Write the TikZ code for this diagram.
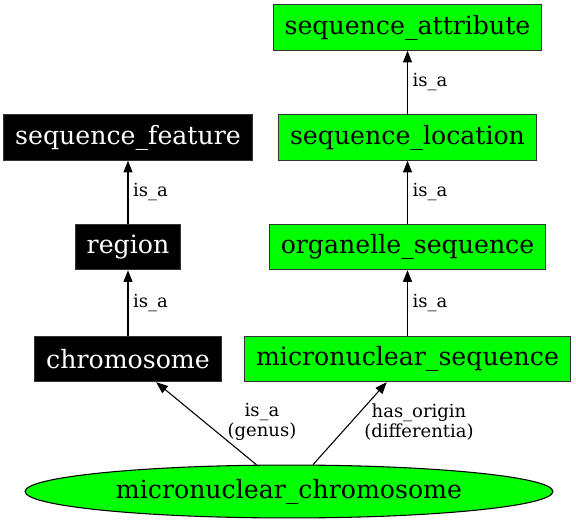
\documentclass[tikz,border=0pt]{standalone}
\usepackage{fontspec}
\setmainfont{DejaVu Serif}
\usetikzlibrary{arrows.meta,shapes.geometric}

\tikzset{
	Term/.style={draw=black!80, line width=0.6pt, rectangle, inner xsep=6.4pt, inner ysep=0pt,
		minimum height=25.2pt, font=\fontsize{14}{16}\selectfont}
}
\tikzset{
	BlackTerm/.style={Term, fill=black, text=white}
}
\tikzset{
	GreenTerm/.style={Term, fill=green, text=black}
}
\tikzset{
	IsA/.style={black, line width=0.6pt, -{Triangle[length=6.5pt,width=5pt]}}
}
\tikzset{
	Lbl/.style={font=\fontsize{10}{11}\selectfont, align=center, inner sep=2.5pt}
}

\begin{document}
\begin{tikzpicture}[x=0.5556pt,y=-0.5556pt]
\useasboundingbox (0,0) rectangle (576,523);

%Terms
\node[GreenTerm] (seqattr) at (407.5,27.5) {sequence\_attribute};
\node[GreenTerm] (seqloc) at (407.5,137.5) {sequence\_location};
\node[GreenTerm] (orgseq) at (407.5,247) {organelle\_sequence};
\node[GreenTerm] (microseq) at (407.5,359) {micronuclear\_sequence};

\node[BlackTerm] (seqfeat) at (128,137.5) {sequence\_feature};
\node[BlackTerm] (region) at (128,247) {region};
\node[BlackTerm] (chromosome) at (128,359) {chromosome};

\node[ellipse, draw=black, line width=0.6pt, fill=green, inner sep=0pt,
	minimum width=293.3pt, minimum height=29.4pt, font=\fontsize{14}{16}\selectfont]
	(mchrom) at (289,491.5) {micronuclear\_chromosome};

%Kanten
\draw[IsA] (seqloc) -- node[Lbl,right]{is\_a} (seqattr);
\draw[IsA] (orgseq) -- node[Lbl,right]{is\_a} (seqloc);
\draw[IsA] (microseq) -- node[Lbl,right]{is\_a} (orgseq);
\draw[IsA] (region) -- node[Lbl,right]{is\_a} (seqfeat);
\draw[IsA] (chromosome) -- node[Lbl,right]{is\_a} (region);

\draw[IsA] (mchrom) -- (chromosome);
\draw[IsA] (mchrom) -- (microseq);

\node[Lbl] (genus) at (262,422) {is\_a\\(genus)};
\node[Lbl] (differentia) at (419,422) {has\_origin\\(differentia)};
\end{tikzpicture}
\end{document}
